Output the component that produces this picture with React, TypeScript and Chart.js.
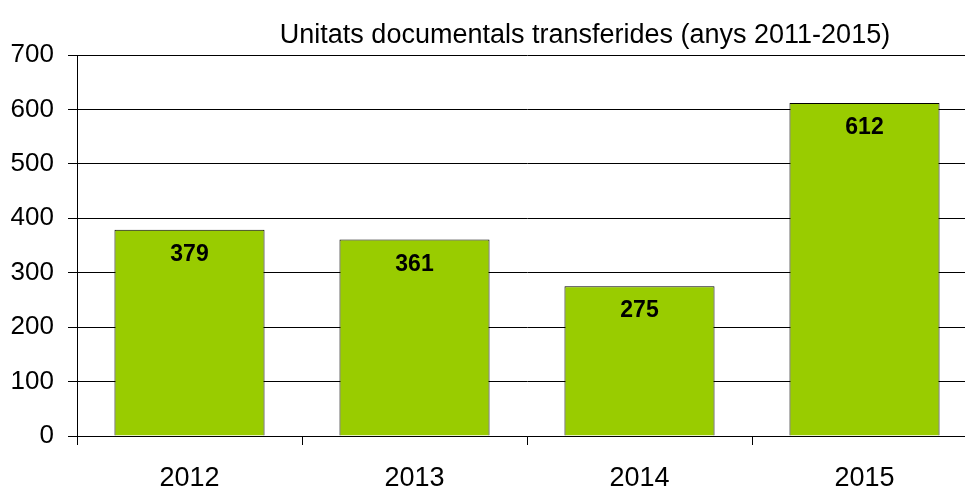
import React, { useEffect, useRef } from "react";
import { Chart, registerables } from "chart.js";

Chart.register(...registerables);

const TITLE = "Unitats documentals transferides (anys 2011-2015)";
const categories = ["2012", "2013", "2014", "2015"];
const values = [379, 361, 275, 612];
const yTicks = [0, 100, 200, 300, 400, 500, 600, 700];

const FONT = "'Liberation Sans', Arial, sans-serif";

const titlePlugin = {
  id: "customTitle",
  afterDraw(chart: any) {
    const ctx = chart.ctx;
    ctx.save();
    ctx.font = `27px ${FONT}`;
    ctx.fillStyle = "#000";
    ctx.textAlign = "center";
    ctx.textBaseline = "alphabetic";
    ctx.fillText(TITLE, 585, 43);
    ctx.restore();
  },
};

const valueLabels = {
  id: "valueLabels",
  afterDatasetsDraw(chart: any) {
    const ctx = chart.ctx;
    const meta = chart.getDatasetMeta(0);
    ctx.save();
    ctx.font = `bold 23px ${FONT}`;
    ctx.fillStyle = "#000";
    ctx.textAlign = "center";
    ctx.textBaseline = "alphabetic";
    meta.data.forEach((el: any, i: number) => {
      ctx.fillText(String(values[i]), el.x, el.y + 31);
    });
    ctx.restore();
  },
};

export default function App() {
  const ref = useRef<HTMLCanvasElement | null>(null);
  useEffect(() => {
    if (!ref.current) return;
    const chart = new Chart(ref.current, {
      type: "bar",
      data: {
        labels: categories,
        datasets: [
          {
            data: values,
            backgroundColor: "#99CC00",
            borderColor: "#000",
            borderWidth: 1,
            categoryPercentage: 1,
            barPercentage: 0.667,
          },
        ],
      },
      options: {
        responsive: false,
        animation: false,
        layout: { padding: { top: 55, right: 13, left: 0, bottom: 0 } },
        plugins: {
          legend: { display: false },
          title: { display: false },
          tooltip: { enabled: false },
        },
        scales: {
          x: {
            grid: {
              offset: true,
              drawOnChartArea: false,
              drawTicks: true,
              tickLength: 9,
              color: "#000",
            },
            border: { display: true, color: "#000" },
            ticks: {
              color: "#000",
              font: { family: FONT, size: 27 },
              padding: 17,
            },
            afterFit(scale: any) {
              scale.height = 52;
            },
          },
          y: {
            min: 0,
            max: 700,
            afterBuildTicks(scale: any) {
              scale.ticks = yTicks.map((v) => ({ value: v }));
            },
            grid: {
              color: "#000",
              tickLength: 9,
              drawTicks: true,
            },
            border: { display: true, color: "#000" },
            ticks: {
              color: "#000",
              font: { family: FONT, size: 26 },
              padding: 14,
            },
            afterFit(scale: any) {
              scale.width = 77;
            },
          },
        },
      },
      plugins: [titlePlugin, valueLabels],
    });
    return () => chart.destroy();
  }, []);
  return (
    <div
      style={{
        position: "fixed",
        left: 0,
        top: 0,
        width: 965,
        height: 488,
        overflow: "hidden",
        background: "#fff",
      }}
    >
      <canvas ref={ref} width={990} height={488} style={{ width: 990, height: 488, display: "block" }} />
    </div>
  );
}
